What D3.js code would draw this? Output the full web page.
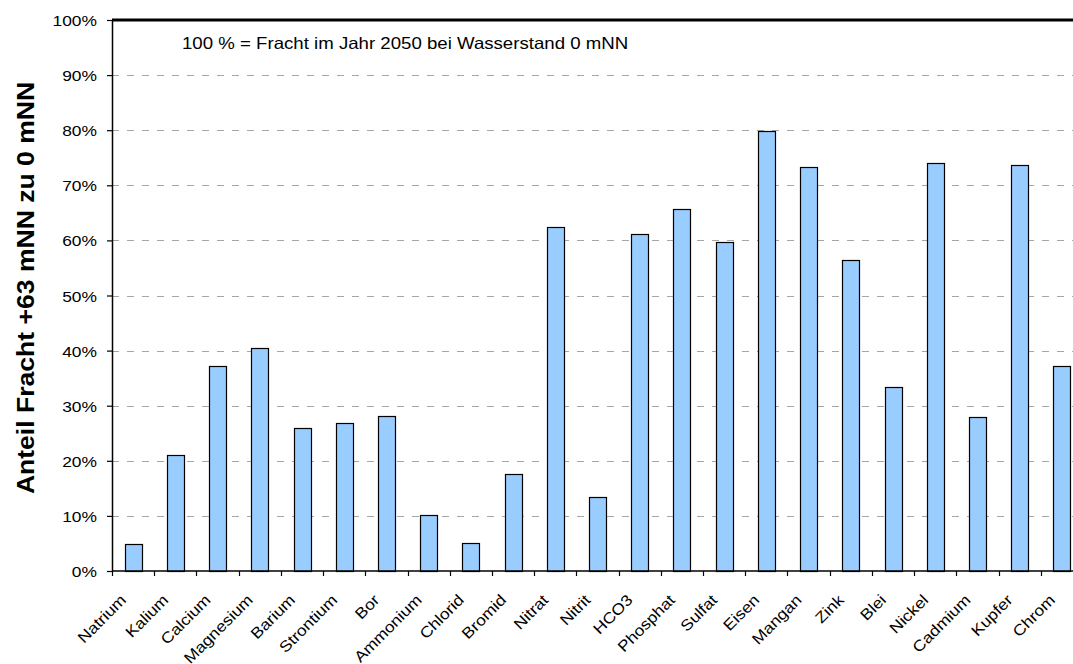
<!DOCTYPE html>
<html>
<head>
<meta charset="utf-8">
<script src="https://cdn.jsdelivr.net/npm/d3@7"></script>
<style>
  html, body { margin: 0; padding: 0; background: #fff; }
  svg { display: block; font-family: "Liberation Sans", Arial, sans-serif; }
</style>
</head>
<body>
<svg id="chart" width="1073" height="664"></svg>
<script>
// Parameters (element / ion)
const categories = ["Natrium", "Kalium", "Calcium", "Magnesium", "Barium", "Strontium", "Bor",
  "Ammonium", "Chlorid", "Bromid", "Nitrat", "Nitrit", "HCO3", "Phosphat", "Sulfat", "Eisen",
  "Mangan", "Zink", "Blei", "Nickel", "Cadmium", "Kupfer", "Chrom"];
// Share of load at +63 mNN relative to 0 mNN, in percent
const values = [4.9, 21.0, 37.2, 40.5, 26.0, 26.9, 28.1, 10.2, 5.1, 17.6, 62.4, 13.4, 61.2,
  65.7, 59.7, 79.9, 73.3, 56.4, 33.4, 74.0, 27.9, 73.7, 37.2];
const yTicks = [0, 10, 20, 30, 40, 50, 60, 70, 80, 90, 100];
const yLabel = "Anteil Fracht +63 mNN zu 0 mNN";
const note = "100 % = Fracht im Jahr 2050 bei Wasserstand 0 mNN";

const svg = d3.select("#chart");
const plotLeft = 112, plotTop = 20, plotBottom = 571, plotRight = 1083;
const stretch = 1.13; // text is drawn slightly wide along its writing direction

const x = d3.scaleBand().domain(categories).range([plotLeft, plotRight]).paddingInner(0.6).paddingOuter(0.3);
const xEdge = d3.scaleLinear().domain([0, categories.length]).range([plotLeft, plotRight]);
const y = d3.scaleLinear().domain([0, 100]).range([plotBottom, plotTop]);

// dashed horizontal gridlines
svg.append("g").selectAll("line")
  .data(yTicks.filter(d => d > 0 && d < 100))
  .join("line")
  .attr("x1", plotLeft).attr("x2", plotRight)
  .attr("y1", d => Math.round(y(d)) + 0.5).attr("y2", d => Math.round(y(d)) + 0.5)
  .attr("stroke", "#a6a6a6").attr("stroke-width", 1)
  .attr("stroke-dasharray", "7,8");

// bars
svg.append("g").selectAll("rect")
  .data(values)
  .join("rect")
  .attr("x", (d, i) => Math.round(x(categories[i])) + 0.5)
  .attr("width", Math.round(x.bandwidth()))
  .attr("y", d => Math.round(y(d)) + 0.5)
  .attr("height", d => Math.round(y(0)) - Math.round(y(d)))
  .attr("fill", "#99ccff")
  .attr("stroke", "#000")
  .attr("stroke-width", 1.2);

// top border of the plot area
svg.append("line")
  .attr("x1", plotLeft).attr("x2", plotRight)
  .attr("y1", y(100)).attr("y2", y(100))
  .attr("stroke", "#000").attr("stroke-width", 3);

// y axis
const yAxis = svg.append("g")
  .attr("transform", `translate(${plotLeft},0)`)
  .call(d3.axisLeft(y).tickValues(yTicks).tickFormat(d => d + "%").tickSize(5).tickSizeOuter(0));
yAxis.select(".domain").attr("stroke", "#000").attr("stroke-width", 1.5);
yAxis.selectAll(".tick line").attr("stroke", "#000").attr("stroke-width", 1.2);
yAxis.selectAll(".tick text")
  .attr("x", null).attr("dy", null)
  .attr("transform", `translate(-15,5.5) scale(${stretch},1)`)
  .attr("font-size", 15.4).attr("fill", "#000")
  .attr("font-family", "Liberation Sans, Arial, sans-serif");

// x axis line and ticks at category boundaries
svg.append("line")
  .attr("x1", plotLeft).attr("x2", plotRight)
  .attr("y1", plotBottom).attr("y2", plotBottom)
  .attr("stroke", "#000").attr("stroke-width", 1.5);
svg.append("g").selectAll("line")
  .data(d3.range(categories.length + 1))
  .join("line")
  .attr("x1", d => Math.round(xEdge(d)) + 0.5).attr("x2", d => Math.round(xEdge(d)) + 0.5)
  .attr("y1", plotBottom).attr("y2", plotBottom + 5)
  .attr("stroke", "#000").attr("stroke-width", 1.2);

// rotated category labels
svg.append("g").selectAll("text")
  .data(categories)
  .join("text")
  .attr("transform", d => `translate(${x(d) + x.bandwidth() / 2 - 6},${plotBottom + 30}) rotate(-45) scale(${stretch},1)`)
  .attr("text-anchor", "end")
  .attr("font-size", 15.4)
  .attr("fill", "#000")
  .text(d => d);

// y axis title
svg.append("text")
  .attr("transform", `translate(34,288) rotate(-90) scale(${stretch},1)`)
  .attr("text-anchor", "middle")
  .attr("font-size", 23.5)
  .attr("font-weight", "bold")
  .attr("fill", "#000")
  .text(yLabel);

// reference note
svg.append("text")
  .attr("transform", `translate(182,49) scale(${stretch},1)`)
  .attr("font-size", 16.5)
  .attr("fill", "#000")
  .text(note);
</script>
</body>
</html>
